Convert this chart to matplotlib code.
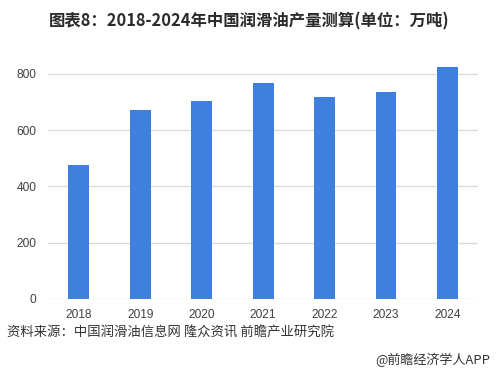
import matplotlib
matplotlib.use("Agg")
import matplotlib.pyplot as plt

plt.rcParams['font.family'] = ['Noto Sans CJK SC', 'DejaVu Sans']

years = ["2018", "2019", "2020", "2021", "2022", "2023", "2024"]
values = [476, 672, 704, 768, 718, 736, 825]
yticks = [0, 200, 400, 600, 800]

title = "图表8：2018-2024年中国润滑油产量测算(单位：万吨)"
source = "资料来源：中国润滑油信息网 隆众资讯 前瞻产业研究院"
credit = "@前瞻经济学人APP"

fig = plt.figure(figsize=(4.96, 3.82), dpi=100)
ax = fig.add_axes([0.097, 0.2173, 0.867, 0.589 * 840 / 800])
x = list(range(len(years)))
ax.bar(x, values, width=0.34, color="#3f7fdd", zorder=3)
ax.set_xlim(-0.5, len(years) - 0.5)
ax.set_ylim(0, 840)
ax.set_yticks(yticks)
ax.set_xticks(x)
ax.set_xticklabels(years)
ax.grid(axis="y", color="#d9d9d9", linewidth=0.9, zorder=0)
for s in ax.spines.values():
    s.set_visible(False)
ax.tick_params(length=0, labelsize=8.6, colors="#404040")
ax.tick_params(axis="x", pad=7)
ax.tick_params(axis="y", pad=8.5)
for lab in ax.get_xticklabels() + ax.get_yticklabels():
    lab.set_family(["Liberation Sans", "DejaVu Sans"])

fig.text(0.503, 0.943, title, ha="center", va="center", fontsize=11.8,
         fontweight="bold", color="#2b2b2b")
fig.text(0.014, 0.128, source, ha="left", va="center", fontsize=9.6, color="#333333")
fig.text(0.988, 0.057, credit, ha="right", va="center", fontsize=9.4, color="#333333")

fig.savefig("out.png", dpi=100)
